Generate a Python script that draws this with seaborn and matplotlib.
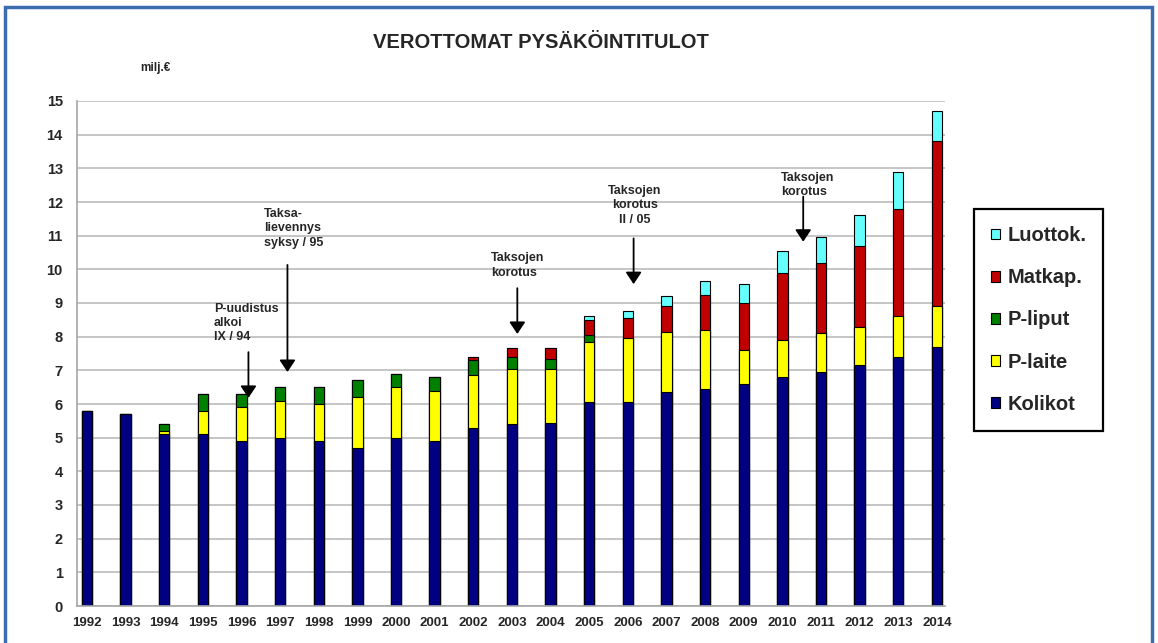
import matplotlib
matplotlib.use("Agg")
import matplotlib.pyplot as plt
import matplotlib.patches as mpatches
from matplotlib.ticker import MultipleLocator
import pandas as pd
import seaborn as sns

years = [str(y) for y in range(1992, 2015)]
kolikot = [5.8, 5.7, 5.1, 5.1, 4.9, 5.0, 4.9, 4.7, 5.0, 4.9, 5.3, 5.4,
           5.45, 6.05, 6.05, 6.35, 6.45, 6.6, 6.8, 6.95, 7.15, 7.4, 7.7]
p_laite = [0, 0, 0.1, 0.7, 1.0, 1.1, 1.1, 1.5, 1.5, 1.5, 1.55, 1.65,
           1.6, 1.8, 1.9, 1.8, 1.75, 1.0, 1.1, 1.15, 1.15, 1.2, 1.2]
p_liput = [0, 0, 0.2, 0.5, 0.4, 0.4, 0.5, 0.5, 0.4, 0.4, 0.45, 0.35,
           0.3, 0.2, 0, 0, 0, 0, 0, 0, 0, 0, 0]
matkap = [0, 0, 0, 0, 0, 0, 0, 0, 0, 0, 0.1, 0.25,
          0.3, 0.45, 0.6, 0.75, 1.05, 1.4, 2.0, 2.1, 2.4, 3.2, 4.9]
luottok = [0, 0, 0, 0, 0, 0, 0, 0, 0, 0, 0, 0,
           0, 0.1, 0.2, 0.3, 0.4, 0.55, 0.65, 0.75, 0.9, 1.1, 0.9]

series = ["Kolikot", "P-laite", "P-liput", "Matkap.", "Luottok."]
colors = ["#000080", "#FFFF00", "#008000", "#C00000", "#66FFFF"]

df = pd.DataFrame({"vuosi": years, "Kolikot": kolikot, "P-laite": p_laite,
                   "P-liput": p_liput, "Matkap.": matkap, "Luottok.": luottok})
cum = df[series].cumsum(axis=1)
cum["vuosi"] = years

sns.set_style("white")
plt.rcParams["font.family"] = ["Liberation Sans", "DejaVu Sans"]
plt.rcParams["font.weight"] = "bold"

fig = plt.figure(figsize=(11.58, 6.43), dpi=100)
ax = fig.add_axes([76.7 / 1158, 1 - 606 / 643, (945 - 76.7) / 1158, (606 - 101) / 643])

# stacked bars: draw cumulative totals from the top layer down
for name, col in reversed(list(zip(series, colors))):
    sns.barplot(data=cum, x="vuosi", y=name, color=col, saturation=1,
                width=0.27, edgecolor="black", linewidth=0.8, ax=ax)

ax.set_xlim(-0.265, 22.21)
ax.set_ylim(0, 15)
ax.yaxis.set_major_locator(MultipleLocator(1))
ax.yaxis.set_minor_locator(MultipleLocator(0.5))
ax.yaxis.grid(True, color="#C0C0C0", lw=1.3)
ax.set_axisbelow(True)
ax.set_xlabel("")
ax.set_ylabel("")
for s in ["top", "right"]:
    ax.spines[s].set_visible(False)
for s in ["left", "bottom"]:
    ax.spines[s].set_color("#A6A6A6")
    ax.spines[s].set_linewidth(1.2)
ax.tick_params(axis="y", which="major", length=0, pad=10, labelsize=10.5)
ax.tick_params(axis="y", which="minor", length=3, direction="in", color="#A6A6A6")
ax.tick_params(axis="x", length=0, pad=8, labelsize=9.5)
for lab in ax.get_xticklabels() + ax.get_yticklabels():
    lab.set_fontweight("bold")

fig.text(0.467, 1 - 42 / 643, "VEROTTOMAT PYSÄKÖINTITULOT", ha="center", va="center",
         fontsize=14.5, fontweight="bold")
fig.text(155 / 1158, 1 - 68 / 643, "milj.€", ha="center", va="center",
         fontsize=8.5, fontweight="bold")

# annotations with arrows
notes = [
    ("P-uudistus\nalkoi\nIX / 94", 3.28, 9.0, "left", 4.18, 7.54, 6.18),
    ("Taksa-\nlievennys\nsyksy / 95", 4.59, 11.82, "left", 5.19, 10.13, 6.95),
    ("Taksojen\nkorotus", 10.46, 10.5, "left", 11.14, 9.44, 8.08),
    ("Taksojen\nkorotus\nII / 05", 14.18, 12.5, "center", 14.15, 10.92, 9.56),
    ("Taksojen\nkorotus", 17.96, 12.9, "left", 18.54, 12.16, 10.82),
]
for txt, tx, ty, ha, axx, ytop, ytip in notes:
    ax.text(tx, ty, txt, ha=ha, va="top", fontsize=9, fontweight="bold",
            color="#262626", linespacing=1.25, multialignment="center" if ha == "center" else "left")
    ax.annotate("", xy=(axx, ytip), xytext=(axx, ytop),
                arrowprops=dict(arrowstyle="-|>,head_length=0.45,head_width=0.3",
                                color="black", lw=1.3, mutation_scale=16,
                                shrinkA=0, shrinkB=0))

handles = [mpatches.Patch(facecolor=c, edgecolor="black", lw=0.8, label=n)
           for n, c in zip(series, colors)][::-1]
leg = fig.legend(handles=handles, loc="upper left",
                 bbox_to_anchor=(974 / 1158, 1 - 209 / 643), borderaxespad=0,
                 prop={"size": 14.5, "weight": "bold"}, handlelength=0.45,
                 handleheight=0.45, handletextpad=0.35, labelspacing=1.15,
                 borderpad=0.85, fancybox=False, framealpha=1)
leg.get_frame().set_edgecolor("black")
leg.get_frame().set_linewidth(1.6)

# slide frame
fig.patches.append(mpatches.Rectangle((5 / 1158, -0.1), (1152 - 5) / 1158, 1 - 7 / 643 + 0.1,
                                      transform=fig.transFigure, fill=False,
                                      edgecolor="#3C6DB0", lw=2.5))

fig.savefig("out.png", dpi=100)
